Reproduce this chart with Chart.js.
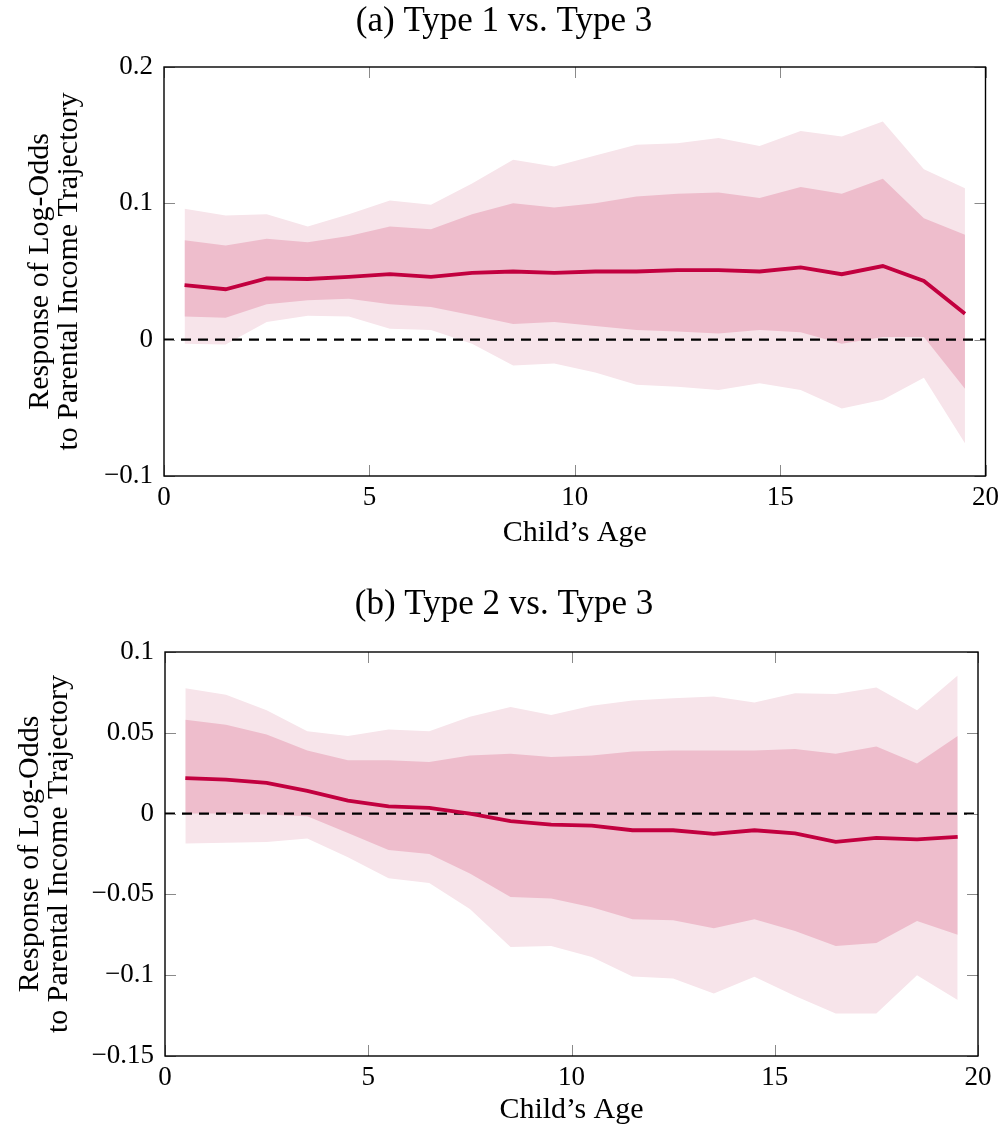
<!DOCTYPE html>
<html>
<head>
<meta charset="utf-8">
<script src="https://cdn.jsdelivr.net/npm/chart.js@4.4.1/dist/chart.umd.min.js"></script>
<style>
  html, body { margin: 0; padding: 0; background: #fff; }
  #wrap { position: relative; width: 1005px; height: 1128px; }
  canvas { position: absolute; left: 0; }
  #chartA { top: 0; }
  #chartB { top: 560px; }
</style>
</head>
<body>
<div id="wrap">
  <canvas id="chartA" width="1005" height="560"></canvas>
  <canvas id="chartB" width="1005" height="568"></canvas>
</div>
<script>
// child's age (bin midpoints)
const ages = [0.5, 1.5, 2.5, 3.5, 4.5, 5.5, 6.5, 7.5, 8.5, 9.5,
              10.5, 11.5, 12.5, 13.5, 14.5, 15.5, 16.5, 17.5, 18.5, 19.5];
const xRange = [0, 20];
const xTicks = [0, 5, 10, 15, 20];
const xTickLabels = ["0", "5", "10", "15", "20"];

// (a) Type 1 vs. Type 3
const aMean    = [0.040, 0.037, 0.045, 0.0445, 0.046, 0.048, 0.046, 0.049, 0.050, 0.049,
                  0.050, 0.050, 0.051, 0.051, 0.050, 0.053, 0.048, 0.054, 0.043, 0.019];
const aInnerHi = [0.073, 0.069, 0.074, 0.0715, 0.076, 0.083, 0.081, 0.092, 0.100, 0.097,
                  0.100, 0.105, 0.107, 0.108, 0.104, 0.112, 0.107, 0.118, 0.089, 0.077];
const aInnerLo = [0.017, 0.016, 0.026, 0.029, 0.030, 0.026, 0.024, 0.018, 0.0115, 0.013,
                  0.010, 0.007, 0.006, 0.0045, 0.007, 0.0055, -0.003, 0.002, 0.002, -0.036];
const aOuterHi = [0.096, 0.091, 0.092, 0.083, 0.092, 0.102, 0.099, 0.1145, 0.132, 0.127,
                  0.135, 0.143, 0.144, 0.148, 0.142, 0.153, 0.149, 0.160, 0.125, 0.111];
const aOuterLo = [-0.003, -0.0035, 0.013, 0.0175, 0.017, 0.008, 0.007, -0.003, -0.019, -0.0175,
                  -0.024, -0.033, -0.0345, -0.037, -0.032, -0.037, -0.0505, -0.044, -0.028, -0.076];
const aYTicks = [-0.1, 0, 0.1, 0.2];
const aYTickLabels = ["\u22120.1", "0", "0.1", "0.2"];

// (b) Type 2 vs. Type 3
const bMean    = [0.022, 0.021, 0.019, 0.014, 0.008, 0.0045, 0.0035, 0.0, -0.0047, -0.0068,
                  -0.0074, -0.0103, -0.0103, -0.0126, -0.0103, -0.0123, -0.0175, -0.015, -0.016, -0.0144];
const bInnerHi = [0.058, 0.055, 0.049, 0.039, 0.033, 0.033, 0.032, 0.036, 0.037, 0.035,
                  0.036, 0.0385, 0.039, 0.039, 0.039, 0.040, 0.037, 0.0415, 0.031, 0.048];
const bInnerLo = [0.0, 0.0, -0.0006, -0.0016, -0.012, -0.0226, -0.025, -0.037, -0.0516, -0.0525,
                  -0.058, -0.0654, -0.066, -0.071, -0.0654, -0.0726, -0.082, -0.080, -0.0665, -0.075];
const bOuterHi = [0.0776, 0.0735, 0.064, 0.051, 0.048, 0.052, 0.051, 0.060, 0.066, 0.061,
                  0.0667, 0.070, 0.0714, 0.0724, 0.0687, 0.0745, 0.074, 0.078, 0.064, 0.0854];
const bOuterLo = [-0.0185, -0.018, -0.0175, -0.0154, -0.027, -0.040, -0.043, -0.059, -0.0825, -0.082,
                  -0.0887, -0.1008, -0.102, -0.1113, -0.101, -0.1128, -0.1237, -0.1237, -0.100, -0.1154];
const bYTicks = [-0.15, -0.1, -0.05, 0, 0.05, 0.1];
const bYTickLabels = ["\u22120.15", "\u22120.1", "\u22120.05", "0", "0.05", "0.1"];

const FONT = '"Liberation Serif", "Times New Roman", serif';
const LIGHT = "#f7e4ea";
const DARK = "#eebdcc";
const LINE = "#c2003f";

// box, inward ticks on all four sides, and the panel title
const framePlugin = {
  id: "frame",
  afterDatasetsDraw(chart, args, opts) {
    const { ctx, chartArea: a, scales: { x, y } } = chart;
    ctx.save();
    ctx.strokeStyle = "#8a8a8a";
    ctx.lineWidth = 1;
    ctx.beginPath();
    x.ticks.forEach(t => {
      const px = Math.round(x.getPixelForValue(t.value)) + 0.5;
      ctx.moveTo(px, a.top); ctx.lineTo(px, a.top + 11);
      ctx.moveTo(px, a.bottom); ctx.lineTo(px, a.bottom - 11);
    });
    y.ticks.forEach(t => {
      const py = Math.round(y.getPixelForValue(t.value)) + 0.5;
      ctx.moveTo(a.left, py); ctx.lineTo(a.left + 11, py);
      ctx.moveTo(a.right, py); ctx.lineTo(a.right - 11, py);
    });
    ctx.stroke();
    ctx.strokeStyle = "#000";
    ctx.lineWidth = 1.4;
    ctx.strokeRect(a.left, a.top, a.right - a.left, a.bottom - a.top);
    ctx.restore();
  },
  afterDraw(chart, args, opts) {
    const ctx = chart.ctx;
    ctx.save();
    ctx.fillStyle = "#000";
    ctx.font = "35px " + FONT;
    ctx.textAlign = "center";
    ctx.textBaseline = "middle";
    ctx.fillText(opts.title, opts.titleX, opts.titleY);
    ctx.restore();
  }
};

function pts(vals) {
  return ages.map((a, i) => ({ x: a, y: vals[i] }));
}

function band(vals, color, fill, order) {
  return {
    data: pts(vals),
    borderWidth: 0,
    pointRadius: 0,
    backgroundColor: color,
    fill: fill,
    order: order
  };
}

function makePanel(id, p) {
  new Chart(document.getElementById(id), {
    type: "line",
    data: {
      datasets: [
        band(p.outerLo, LIGHT, false, 5),
        band(p.outerHi, LIGHT, "-1", 5),
        band(p.innerLo, DARK, false, 4),
        band(p.innerHi, DARK, "-1", 4),
        {
          data: xRange.map(v => ({ x: v, y: 0 })),
          borderColor: "#000",
          borderWidth: 2.4,
          borderDash: [10, 7],
          pointRadius: 0,
          fill: false,
          order: 2
        },
        {
          data: pts(p.mean),
          borderColor: LINE,
          borderWidth: 3.8,
          pointRadius: 0,
          fill: false,
          tension: 0,
          order: 1
        }
      ]
    },
    options: {
      responsive: false,
      animation: false,
      events: [],
      layout: { padding: { top: p.top, right: p.right, bottom: 0, left: 0 } },
      plugins: {
        legend: { display: false },
        tooltip: { enabled: false },
        frame: { title: p.title, titleX: 504, titleY: p.titleY }
      },
      scales: {
        x: {
          type: "linear",
          min: xRange[0],
          max: xRange[1],
          afterBuildTicks: s => { s.ticks = xTicks.map(v => ({ value: v })); },
          afterFit: s => { s.height = p.xAxisH; },
          grid: { display: false, drawTicks: false },
          border: { display: false },
          ticks: {
            color: "#000",
            padding: 6,
            maxRotation: 0,
            font: { family: FONT, size: 27 },
            callback: (v, i) => xTickLabels[i]
          },
          title: {
            display: true,
            text: "Child\u2019s Age",
            color: "#000",
            font: { family: FONT, size: 30, lineHeight: 1.0 },
            padding: { top: 0, bottom: p.xTitlePad }
          }
        },
        y: {
          type: "linear",
          min: p.yTicks[0],
          max: p.yTicks[p.yTicks.length - 1],
          afterBuildTicks: s => { s.ticks = p.yTicks.map(v => ({ value: v })); },
          afterFit: s => { s.width = p.yAxisW; },
          grid: { display: false, drawTicks: false },
          border: { display: false },
          ticks: {
            color: "#000",
            padding: 11,
            font: { family: FONT, size: 27 },
            callback: (v, i) => p.yTickLabels[i]
          },
          title: {
            display: true,
            text: ["Response of Log-Odds", "to Parental Income Trajectory"],
            color: "#000",
            font: { family: FONT, size: 30, lineHeight: 0.98 },
            padding: { top: p.yTitlePad, bottom: 0 }
          }
        }
      }
    },
    plugins: [framePlugin]
  });
}

makePanel("chartA", {
  title: "(a) Type 1 vs. Type 3", titleY: 22,
  mean: aMean, innerHi: aInnerHi, innerLo: aInnerLo, outerHi: aOuterHi, outerLo: aOuterLo,
  yTicks: aYTicks, yTickLabels: aYTickLabels,
  top: 67, right: 18, yAxisW: 164, xAxisH: 84, xTitlePad: 12, yTitlePad: 25
});

makePanel("chartB", {
  title: "(b) Type 2 vs. Type 3", titleY: 45,
  mean: bMean, innerHi: bInnerHi, innerLo: bInnerLo, outerHi: bOuterHi, outerLo: bOuterLo,
  yTicks: bYTicks, yTickLabels: bYTickLabels,
  top: 92, right: 27, yAxisW: 165, xAxisH: 72, xTitlePad: 3, yTitlePad: 15
});
</script>
</body>
</html>
